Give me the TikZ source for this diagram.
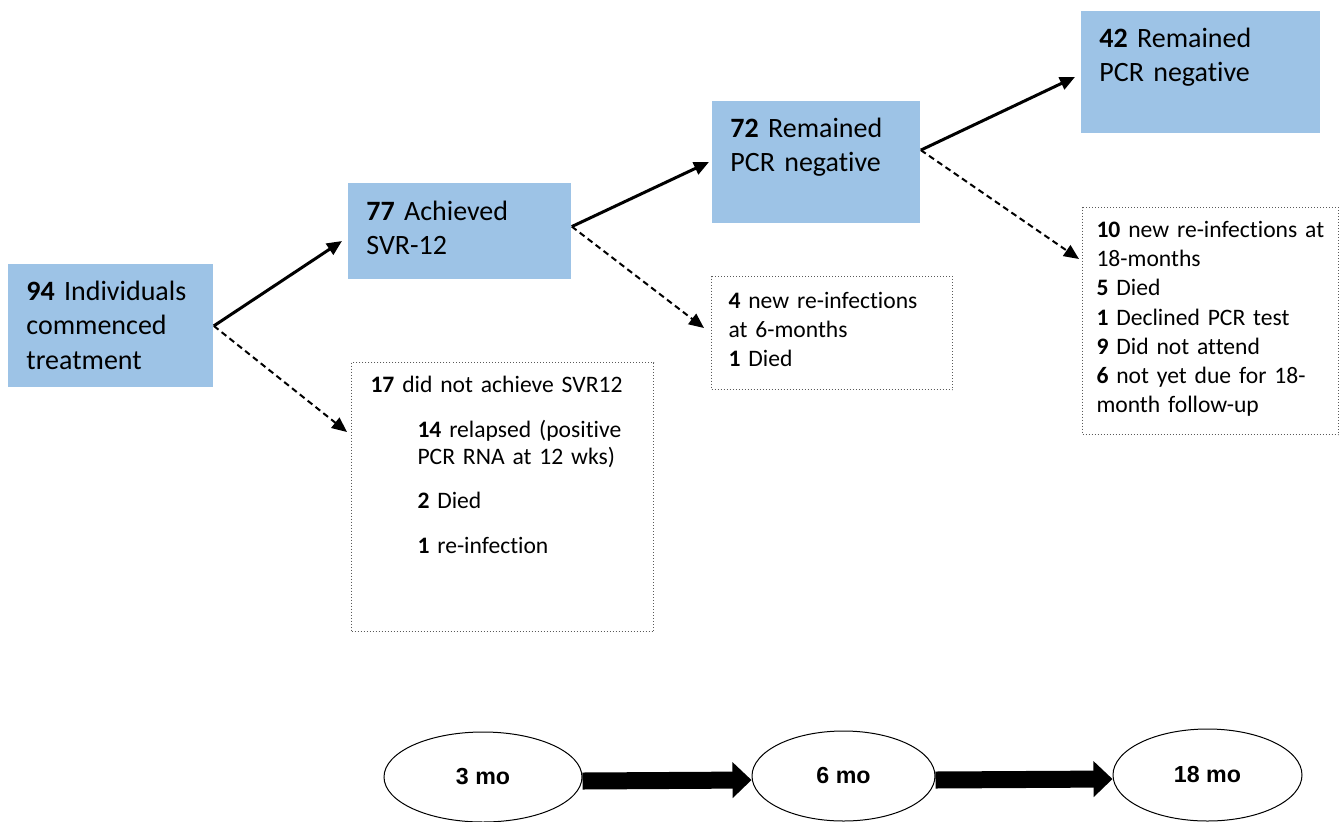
\documentclass[tikz,border=0pt]{standalone}
\usepackage{fontspec}
\setmainfont{Carlito}[Ligatures=CommonOff]
\newfontfamily\arialfont{Liberation Sans}
\usetikzlibrary{arrows.meta,shapes.geometric,calc}
\definecolor{stage}{RGB}{157,195,230}
\definecolor{dotline}{RGB}{90,90,90}
\newcommand{\subline}{\hspace*{23.5pt}}

\begin{document}
\begin{tikzpicture}[x=0.5pt, y=-0.5pt,
    stagebox/.style={anchor=north west, fill=stage, inner xsep=9pt, inner ysep=0pt,
                     align=left, font=\fontsize{14}{17.25}\selectfont, text width=#1},
    outbox/.style={anchor=north west, draw=dotline, densely dotted, line width=0.5pt,
                   inner xsep=8.5pt, inner ysep=0pt, align=left,
                   font=\fontsize{11.8}{14.6}\selectfont, text width=#1},
    timept/.style={ellipse, draw, line width=0.5pt, inner sep=0pt, minimum height=45pt,
                   font=\arialfont\bfseries\fontsize{11.6}{13}\selectfont},
    kept/.style={line width=1.5pt, -{Triangle[length=7.5pt,width=6.5pt]}},
    lost/.style={line width=1pt, dash pattern=on 3pt off 2pt,
                 -{Triangle[length=7.5pt,width=6.5pt]}},
    timeflow/.style={line width=8.5pt, -{Triangle[length=9.5pt,width=17.5pt]}}
]
\useasboundingbox (0,0) rectangle (1341,821);

\node[stagebox=84.5pt, text height=18pt, text depth=43.5pt] (start) at (8,264)
    {\textbf{94} Individuals\\commenced\\treatment};
\node[stagebox=93.5pt, text height=18.5pt, text depth=29.5pt] (svr) at (348,183)
    {\textbf{77} Achieved\\SVR-12};
\node[stagebox=86pt, text height=18pt, text depth=43pt] (six) at (712,101)
    {\textbf{72} Remained\\PCR negative};
\node[stagebox=101.5pt, text height=18pt, text depth=43pt] (eighteen) at (1081,11)
    {\textbf{42} Remained\\PCR negative};

\node[outbox=132pt, inner xsep=9.5pt, text height=15pt, text depth=119.5pt,
      font=\fontsize{11.8}{13.5}\selectfont] (fail) at (351,362)
    {\textbf{17} did not achieve SVR12\\[9pt]
     \subline\textbf{14} relapsed (positive\\
     \subline PCR RNA at 12 wks)\\[8.5pt]
     \subline\textbf{2} Died\\[9pt]
     \subline\textbf{1} re-infection};
\node[outbox=103.5pt, text height=16pt, text depth=40.5pt] (lostsix) at (711,276)
    {\textbf{4} new re-infections\\at 6-months\\\textbf{1} Died};
\node[outbox=114pt, inner xsep=7pt, text height=15pt, text depth=98.5pt] (losteighteen) at (1082,207)
    {\textbf{10} new re-infections at\\18-months\\\textbf{5} Died\\\textbf{1} Declined PCR test\\
     \textbf{9} Did not attend\\\textbf{6} not yet due for 18-\\month follow-up};

\node[timept, minimum width=99pt] (m3) at (483,777) {3 mo};
\node[timept, minimum width=91.5pt] (m6) at (843.5,776) {6 mo};
\node[timept, minimum width=94.5pt, minimum height=46pt] (m18) at (1207.5,775) {18 mo};

\coordinate (tosvr) at (342,241);
\coordinate (tofail) at (347,432);
\coordinate (tosix) at (709,162);
\coordinate (tolostsix) at (704,328);
\coordinate (toeighteen) at (1075,77);
\coordinate (tolosteighteen) at (1079,259);

\draw[kept] (start.east) -- (tosvr);
\draw[lost] (start.east) -- (tofail);
\draw[kept] ($(svr.north east)!0.45!(svr.south east)$) -- (tosix);
\draw[lost] ($(svr.north east)!0.45!(svr.south east)$) -- (tolostsix);
\draw[kept] ($(six.north east)!0.4!(six.south east)$) -- (toeighteen);
\draw[lost] ($(six.north east)!0.4!(six.south east)$) -- (tolosteighteen);

\draw[timeflow] ([yshift=-2pt]m3.east) -- ([yshift=-2pt]m6.west);
\draw[timeflow] ([yshift=-2pt]m6.east) -- ([yshift=-2pt]m18.west);
\end{tikzpicture}
\end{document}
